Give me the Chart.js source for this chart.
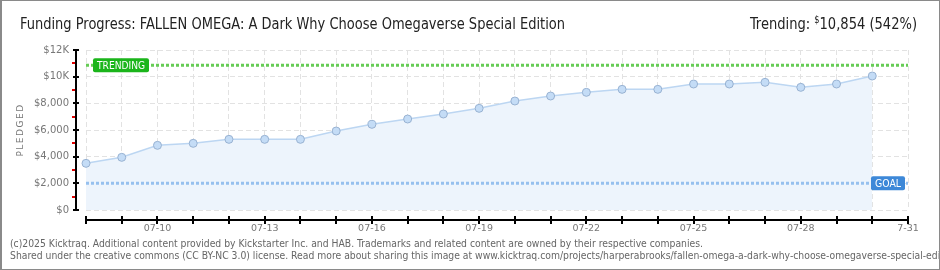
<!DOCTYPE html>
<html>
<head>
<meta charset="utf-8">
<script src="https://cdn.jsdelivr.net/npm/chart.js@4/dist/chart.umd.min.js"></script>
<style>
  html, body { margin:0; padding:0; background:#fff; }
  #wrap { position:relative; width:940px; height:270px; overflow:hidden; background:#fff; }
  #frame { position:absolute; left:0; top:0; width:940px; height:270px; box-sizing:border-box; border:1px solid #8a8a8a; border-left-width:2px; pointer-events:none; }
  canvas { position:absolute; left:0; top:0; }
  .txt { position:absolute; white-space:nowrap; font-family:"Liberation Sans Narrow","DejaVu Sans Condensed","Roboto","Liberation Sans",sans-serif; }
  #title { left:20px; top:14px; font-size:16px; color:#222; transform-origin:0 0; }
  #trend { top:14px; font-size:16px; color:#222; transform-origin:0 0; }
  #trend sup { font-size:10px; vertical-align:6px; }
  .foot { left:10px; font-size:10.5px; color:#666; transform-origin:0 0; }
  #f1 { top:237px; }
  #f2 { top:249px; }
  #yt { left:20px; top:130px; font-family:"DejaVu Sans",sans-serif; font-size:9px; letter-spacing:1.5px; color:#777; transform:translate(-50%,-50%) rotate(-90deg); }
</style>
</head>
<body>
<div id="wrap">
  <canvas id="c" width="940" height="270"></canvas>
  <div class="txt" id="title">Funding Progress: FALLEN OMEGA: A Dark Why Choose Omegaverse Special Edition</div>
  <div class="txt" id="trend">Trending: <sup>$</sup>10,854 (542%)</div>
  <div class="txt foot" id="f1">(c)2025 Kicktraq. Additional content provided by Kickstarter Inc. and HAB. Trademarks and related content are owned by their respective companies.</div>
  <div class="txt foot" id="f2">Shared under the creative commons (CC BY-NC 3.0) license. Read more about sharing this image at www.kicktraq.com/projects/harperabrooks/fallen-omega-a-dark-why-choose-omegaverse-special-edition/</div>
  <div class="txt" id="yt">PLEDGED</div>
  <div id="frame"></div>
</div>
<script>
// ---- data ----
const dates = ['07-08','07-09','07-10','07-11','07-12','07-13','07-14','07-15','07-16','07-17','07-18','07-19',
               '07-20','07-21','07-22','07-23','07-24','07-25','07-26','07-27','07-28','07-29','07-30','07-31'];
const pledged = [3500, 3950, 4850, 5000, 5300, 5300, 5300, 5925, 6425, 6825, 7200, 7625,
                 8175, 8550, 8825, 9050, 9050, 9450, 9450, 9575, 9200, 9450, 10050, null];
const xTickText = {'07-10':'07-10','07-13':'07-13','07-16':'07-16','07-19':'07-19','07-22':'07-22','07-25':'07-25','07-28':'07-28','07-31':'7-31'};
const yTickValues = [0, 2000, 4000, 6000, 8000, 10000, 12000];
const yTickLabels = ['$0','$2,000','$4,000','$6,000','$8,000','$10K','$12K'];
const TRENDING = 10854;
const GOAL = 2000;

// ---- fit header/footer text widths ----
function fit(id, left, right) {
  const el = document.getElementById(id);
  const w = el.getBoundingClientRect().width;
  const s = (right - left) / w;
  el.style.left = left + 'px';
  el.style.transform = 'scaleX(' + s + ')';
  return s;
}
fit('title', 20, 565);
fit('trend', 750, 917);
const fs = fit('f1', 10, 703);
document.getElementById('f2').style.transform = 'scaleX(' + fs + ')';

// ---- custom axis lines, ticks and badges ----
const decor = {
  id: 'decor',
  afterDatasetsDraw(chart) {
    const {ctx, chartArea:a, scales:{x, y}} = chart;
    ctx.save();
    // y axis
    const ax = a.left - 10;
    ctx.strokeStyle = '#000'; ctx.lineWidth = 2;
    ctx.beginPath(); ctx.moveTo(ax, a.top); ctx.lineTo(ax, a.bottom + 1); ctx.stroke();
    for (let v = 0; v <= 12000; v += 1000) {
      const py = Math.round(y.getPixelForValue(v));
      if (v % 2000 === 0) {
        ctx.strokeStyle = '#000';
        ctx.beginPath(); ctx.moveTo(ax - 3, py); ctx.lineTo(ax + 3, py); ctx.stroke();
      } else {
        ctx.strokeStyle = '#e00000';
        ctx.beginPath(); ctx.moveTo(ax - 4, py); ctx.lineTo(ax - 1, py); ctx.stroke();
      }
    }
    // x axis
    const ay = a.bottom + 10;
    ctx.strokeStyle = '#000'; ctx.lineWidth = 2;
    ctx.beginPath(); ctx.moveTo(a.left, ay); ctx.lineTo(a.right, ay); ctx.stroke();
    for (let i = 0; i < dates.length; i++) {
      const px = Math.round(x.getPixelForValue(i));
      ctx.beginPath(); ctx.moveTo(px, ay - 4); ctx.lineTo(px, ay + 4); ctx.stroke();
    }
    // badges
    function badge(text, bx, cy, w, color) {
      const h = 14;
      ctx.fillStyle = color;
      ctx.beginPath();
      ctx.roundRect(bx, cy - h / 2, w, h, 2);
      ctx.fill();
      ctx.fillStyle = '#fff';
      ctx.font = '10px "DejaVu Sans", sans-serif';
      ctx.textBaseline = 'middle'; ctx.textAlign = 'left';
      const tw = ctx.measureText(text).width;
      const avail = w - 8;
      const sc = Math.min(1, avail / tw);
      ctx.save();
      ctx.translate(bx + 4, cy + 1);
      ctx.scale(sc, 1);
      ctx.fillText(text, 0, 0);
      ctx.restore();
    }
    badge('TRENDING', a.left + 7, y.getPixelForValue(TRENDING), 56, '#1bb51b');
    badge('GOAL', a.right - 37, y.getPixelForValue(GOAL), 34, '#3d88d8');
    ctx.restore();
  }
};

new Chart(document.getElementById('c'), {
  type: 'line',
  data: {
    labels: dates,
    datasets: [
      {
        label: 'Pledged', data: pledged, order: 3,
        borderColor: '#bcd6f2', borderWidth: 1.5, tension: 0,
        backgroundColor: '#edf4fc', fill: 'origin',
        pointRadius: 4, pointBackgroundColor: '#c4dcf6', pointBorderColor: '#98b2d2', pointBorderWidth: 1,
        spanGaps: false
      },
      {
        label: 'Trending', data: dates.map(() => TRENDING), order: 2,
        borderColor: '#66cc55', borderWidth: 3, borderDash: [3, 2], pointRadius: 0, fill: false
      },
      {
        label: 'Goal', data: dates.map(() => GOAL), order: 2,
        borderColor: '#96c0ee', borderWidth: 3, borderDash: [3, 2], pointRadius: 0, fill: false
      }
    ]
  },
  options: {
    responsive: false, animation: false, devicePixelRatio: 1,
    layout: { padding: { top: 50, right: 32, bottom: 0, left: 0 } },
    plugins: { legend: { display: false }, tooltip: { enabled: false }, title: { display: false } },
    scales: {
      x: {
        offset: false,
        afterFit(s) { s.height = 60; },
        grid: { color: '#e2e2e2', lineWidth: 1, drawTicks: false, offset: false },
        border: { display: false, dash: [5, 3] },
        ticks: {
          autoSkip: false, maxRotation: 0, padding: 13,
          color: '#777', font: { family: '"DejaVu Sans", sans-serif', size: 9.5 },
          callback: (v, i) => xTickText[dates[i]] || ''
        }
      },
      y: {
        min: 0, max: 12000,
        afterFit(s) { s.width = 86; },
        afterBuildTicks(s) { s.ticks = yTickValues.map(v => ({ value: v })); },
        grid: { color: '#e2e2e2', lineWidth: 1, drawTicks: false },
        border: { display: false, dash: [5, 3] },
        ticks: {
          padding: 17, color: '#777', font: { family: '"DejaVu Sans", sans-serif', size: 10 },
          callback: (v) => yTickLabels[yTickValues.indexOf(v)]
        }
      }
    }
  },
  plugins: [decor]
});
</script>
</body>
</html>
